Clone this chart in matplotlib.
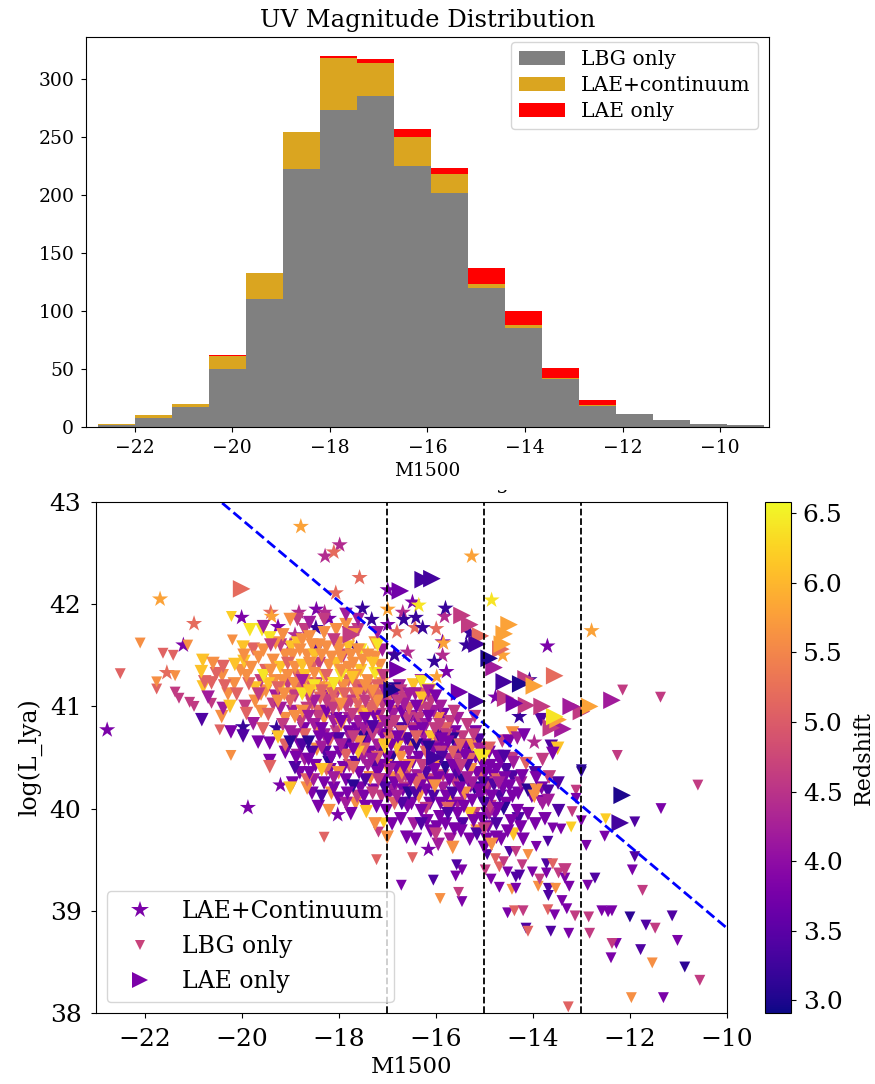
import numpy as np
import matplotlib
matplotlib.use("Agg")
import matplotlib.pyplot as plt
from matplotlib.colors import Normalize
from matplotlib.lines import Line2D
from matplotlib.transforms import Bbox

plt.rcParams['font.family'] = ['DejaVu Serif']

# ---------- histogram values ----------
bin_start = -22.76
bin_end = -9.1
lbg_counts = [2, 8, 17, 50, 110, 222, 273, 285, 225, 202, 120, 85, 41, 18, 11, 6, 3, 2]
cont_counts = [1, 2, 3, 11, 23, 32, 45, 29, 25, 16, 3, 3, 1, 1, 0, 0, 0, 0]
lae_counts = [0, 0, 0, 1, 0, 0, 2, 3, 7, 5, 14, 12, 9, 4, 0, 0, 0, 0]
hist_colors = ['gray', 'goldenrod', 'red']
hist_labels = ['LBG only', 'LAE+continuum', 'LAE only']

# ---------- scatter values: (M1500, log L_lya) grouped by redshift ----------
star_groups = {
    3.2: [(-17.51, 41.96), (-15.8, 41.96), (-16.41, 41.87), (-16.66, 41.85), (-16.27, 41.77), (-16.03, 41.44),
          (-17.63, 41.57), (-19.97, 40.8), (-19.28, 40.79), (-15.3, 41.72), (-15.37, 41.6), (-14.07, 41.26),
          (-16.85, 41.5), (-17.32, 41.85), (-18.47, 41.77), (-14.28, 40.9)],
    3.8: [(-21.2, 41.6), (-20.0, 41.87), (-19.25, 41.78), (-18.46, 41.95), (-18.2, 41.86), (-16.99, 42.14),
          (-16.99, 41.8), (-16.48, 42.02), (-15.86, 41.63), (-15.78, 41.34), (-13.7, 41.59), (-22.77, 40.77),
          (-19.87, 40.01), (-18.02, 39.94), (-16.15, 39.6), (-19.2, 40.23), (-14.77, 41.09), (-16.85, 41.51)],
    4.4: [(-17.98, 42.58), (-18.28, 42.47), (-18.82, 41.92), (-18.29, 41.92), (-16.68, 41.92), (-16.58, 41.53),
          (-15.82, 41.88), (-15.86, 41.5), (-13.97, 40.65), (-18.9, 41.7), (-19.0, 41.6)],
    5.2: [(-18.1, 42.51), (-17.57, 42.26), (-18.06, 42.11), (-20.98, 41.81), (-19.4, 41.92), (-15.99, 41.76),
          (-21.54, 41.33), (-16.43, 41.77), (-16.8, 41.73)],
    5.8: [(-18.78, 42.76), (-21.68, 42.05), (-19.38, 41.88), (-15.26, 42.47), (-12.79, 41.74), (-14.62, 41.5),
          (-15.98, 41.29), (-16.99, 41.95), (-15.84, 41.62)],
    6.4: [(-16.35, 41.99), (-14.85, 42.04), (-17.4, 41.52)],
}

lbg_groups = {
    3.1: [(-10.87, 38.45), (-12.0, 38.94), (-13.0, 40.36), (-13.0, 40.38)],
    3.4: [(-11.9, 39.87), (-11.9, 39.53), (-12.72, 39.32), (-11.78, 38.62), (-11.13, 38.95), (-11.67, 38.86),
          (-13.63, 38.8), (-14.14, 38.83), (-13.68, 39.15), (-13.68, 39.22), (-13.72, 39.46), (-14.27, 39.35),
          (-14.35, 39.33), (-14.48, 39.58), (-14.94, 39.55), (-15.57, 39.45), (-16.05, 39.3), (-13.69, 39.68)],
    3.8: [(-11.36, 40.0), (-12.52, 39.73), (-11.95, 39.4), (-12.9, 39.64), (-12.87, 39.25), (-12.58, 39.0), (-12.45, 38.99),
          (-12.37, 39.0), (-11.02, 38.71), (-12.28, 38.68), (-12.39, 38.54), (-11.31, 38.15), (-13.26, 38.78), (-13.55, 38.96),
          (-14.52, 38.98), (-13.3, 39.02), (-13.4, 39.1), (-13.25, 39.24), (-14.35, 39.22), (-14.69, 39.23), (-14.86, 39.31),
          (-14.52, 39.38), (-14.01, 39.38), (-13.34, 39.32), (-13.72, 39.37), (-13.93, 39.63), (-15.46, 39.4), (-15.59, 39.34),
          (-16.71, 39.25), (-15.46, 39.09), (-13.0, 39.88), (-13.59, 39.81), (-13.42, 39.8), (-13.11, 40.1), (-13.85, 40.08)],
    4.6: [(-10.6, 40.23), (-11.74, 39.2), (-12.85, 38.94), (-12.83, 38.78), (-12.37, 38.68), (-13.13, 38.95), (-11.48, 38.83),
          (-10.56, 38.32), (-14.2, 39.0), (-13.11, 40.18), (-13.19, 39.97), (-13.68, 40.3), (-12.15, 41.16), (-11.37, 41.09),
          (-12.26, 40.52), (-13.47, 39.37), (-13.86, 39.31), (-14.35, 39.58), (-14.22, 39.45), (-14.6, 39.48), (-14.98, 39.4),
          (-15.53, 39.18), (-17.18, 39.77), (-21.37, 41.14), (-21.29, 41.08), (-21.07, 41.04), (-20.98, 41.0), (-20.62, 41.03)],
    5.1: [(-22.5, 41.32), (-21.62, 41.52), (-21.41, 41.5), (-21.75, 41.17), (-20.45, 40.77), (-14.1, 38.8), (-13.27, 38.06),
          (-13.69, 39.01), (-14.38, 39.0), (-13.59, 39.46), (-14.69, 39.43), (-14.77, 39.51), (-17.22, 39.5), (-16.48, 39.52),
          (-18.3, 39.72)],
    5.6: [(-22.09, 41.62), (-21.11, 41.6), (-21.75, 41.24), (-21.37, 41.3), (-20.19, 41.65), (-20.22, 40.52), (-11.97, 38.15),
          (-11.54, 38.49), (-15.91, 39.12), (-13.53, 39.22), (-13.89, 39.24), (-14.43, 39.21), (-14.1, 39.55)],
    6.2: [(-20.21, 41.88), (-12.5, 39.9), (-13.21, 39.82), (-17.07, 39.86)],
}

dense_groups = {
    3.1: [(-19.0, 40.65), (-18.2, 40.45), (-17.5, 40.7), (-16.9, 40.5), (-16.4, 40.62), (-15.8, 40.4), (-15.2, 40.2),
          (-17.7, 40.22), (-16.55, 40.15), (-14.6, 40.0), (-16.85, 41.17), (-15.3, 40.62), (-14.1, 40.18), (-15.65, 40.68),
          (-18.62, 40.65), (-17.02, 40.82), (-16.15, 40.6), (-15.45, 40.28)],
    3.4: [(-13.47, 39.98), (-13.69, 40.17), (-13.48, 40.25), (-14.8, 40.23), (-14.42, 40.31), (-13.83, 40.87), (-13.62, 40.61),
          (-15.11, 40.67), (-14.59, 40.51), (-19.97, 40.71), (-20.82, 40.87), (-18.55, 40.55), (-18.0, 40.68), (-17.65, 40.45),
          (-17.3, 40.8), (-17.05, 40.2), (-16.7, 40.05), (-16.2, 40.35), (-15.95, 40.72), (-15.65, 40.15), (-15.45, 39.85),
          (-15.0, 40.05), (-14.3, 39.9), (-18.45, 41.55), (-16.6, 40.85), (-15.55, 40.55), (-14.75, 39.85), (-16.3, 39.85),
          (-18.9, 40.4), (-18.35, 40.12), (-17.15, 40.55), (-16.05, 40.12), (-15.35, 40.42), (-14.55, 40.38), (-14.95, 39.95),
          (-13.95, 40.35), (-17.45, 40.28), (-16.75, 40.78), (-15.75, 39.95), (-15.15, 39.75),
          (-18.75, 40.62), (-18.28, 40.55), (-17.85, 40.62), (-17.25, 40.42), (-16.58, 40.68), (-16.42, 40.15), (-15.88, 40.5),
          (-15.58, 40.35), (-15.02, 40.25), (-14.68, 40.12)],
    3.8: [(-15.18, 40.75), (-13.59, 40.54), (-14.18, 40.72), (-14.73, 40.51), (-14.66, 40.46), (-14.49, 40.66), (-13.93, 40.3),
          (-19.66, 40.65), (-19.42, 40.64), (-19.42, 40.47), (-20.22, 40.75), (-18.8, 40.62), (-18.6, 40.35), (-18.4, 40.7),
          (-18.3, 40.25), (-18.15, 40.5), (-18.0, 40.1), (-17.9, 40.4), (-17.8, 40.75), (-17.7, 40.58), (-17.55, 40.2),
          (-17.45, 40.02), (-17.35, 40.55), (-17.2, 40.35), (-17.1, 40.72), (-17.0, 40.5), (-16.9, 39.85), (-16.85, 40.25),
          (-16.75, 40.65), (-16.65, 40.4), (-16.6, 39.72), (-16.5, 40.05), (-16.45, 40.75), (-16.35, 40.5), (-16.3, 39.98),
          (-16.2, 40.18), (-16.1, 39.78), (-16.05, 40.58), (-15.95, 40.3), (-15.9, 40.05), (-15.8, 39.85), (-15.75, 40.65),
          (-15.65, 40.42), (-15.55, 39.95), (-15.5, 40.2), (-15.4, 40.52), (-15.3, 39.7), (-15.25, 40.08), (-15.15, 40.35),
          (-15.05, 39.9), (-14.95, 39.7), (-14.85, 40.12), (-14.75, 40.38), (-14.65, 39.7), (-14.55, 40.05), (-14.45, 39.88),
          (-14.3, 40.15), (-14.2, 39.7), (-14.1, 39.95), (-13.95, 39.85), (-16.95, 41.0), (-16.7, 40.95), (-16.4, 41.0),
          (-16.15, 40.9), (-15.85, 40.92), (-18.25, 40.95), (-18.05, 40.88), (-17.75, 39.95), (-18.55, 40.15), (-18.8, 40.35),
          (-17.25, 40.9), (-15.6, 40.75), (-14.9, 40.55), (-16.0, 41.1), (-19.1, 40.55), (-18.95, 40.25), (-18.72, 40.78),
          (-18.48, 40.42), (-18.42, 40.02), (-18.22, 40.68), (-18.1, 40.2), (-17.98, 40.55), (-17.85, 40.28), (-17.62, 40.78),
          (-17.58, 40.35), (-17.42, 40.65), (-17.28, 40.18), (-17.12, 40.42), (-17.02, 39.98), (-16.92, 40.62), (-16.82, 40.4),
          (-16.72, 39.9), (-16.62, 40.68), (-16.52, 40.28), (-16.42, 39.7), (-16.32, 40.22), (-16.22, 40.62), (-16.12, 40.05),
          (-16.02, 40.38), (-15.92, 39.92), (-15.82, 40.58), (-15.72, 40.28), (-15.62, 39.8), (-15.52, 40.38), (-15.42, 40.02),
          (-15.32, 40.55), (-15.22, 39.88), (-15.12, 40.18), (-15.02, 40.42), (-14.92, 39.82), (-14.82, 40.32), (-14.72, 40.0),
          (-14.62, 40.2), (-14.52, 39.78), (-14.42, 40.12), (-14.32, 39.98), (-14.22, 40.32), (-14.02, 40.12), (-13.82, 40.2),
          (-15.0, 39.62), (-14.75, 39.72), (-14.25, 39.82), (-13.75, 39.9), (-17.95, 40.85), (-17.45, 40.88), (-16.85, 41.1),
          (-18.88, 40.5), (-18.62, 40.48), (-18.35, 40.78), (-18.18, 40.38), (-18.02, 40.68), (-17.82, 40.15), (-17.68, 40.72),
          (-17.48, 40.12), (-17.38, 40.75), (-17.22, 40.02), (-17.08, 40.28), (-16.98, 40.12), (-16.78, 40.7), (-16.68, 40.18),
          (-16.58, 40.02), (-16.48, 40.45), (-16.38, 40.85), (-16.28, 40.78), (-16.18, 39.88), (-16.08, 40.25), (-15.98, 39.82),
          (-15.88, 40.68), (-15.78, 40.12), (-15.68, 40.02), (-15.58, 40.62), (-15.48, 39.78), (-15.38, 40.62), (-15.28, 40.22),
          (-15.18, 40.5), (-15.08, 40.12), (-14.98, 40.35), (-14.88, 40.42), (-14.78, 39.95), (-14.58, 40.3), (-14.48, 40.22)],
    4.2: [(-13.68, 40.08), (-14.32, 40.69), (-20.69, 41.09), (-20.38, 40.98), (-19.76, 40.83), (-19.0, 40.75), (-18.7, 40.48),
          (-18.5, 40.82), (-18.35, 40.6), (-18.1, 40.3), (-17.95, 40.62), (-17.6, 40.85), (-17.4, 40.42), (-17.2, 40.62),
          (-16.95, 40.38), (-16.8, 40.12), (-16.55, 40.55), (-16.25, 40.7), (-16.1, 40.42), (-15.85, 40.2), (-15.7, 39.7),
          (-15.35, 40.3), (-15.1, 40.58), (-14.9, 39.95), (-14.7, 40.25), (-14.4, 40.45), (-14.25, 40.25), (-13.8, 40.05),
          (-19.3, 41.1), (-18.75, 41.25), (-18.95, 40.95), (-18.2, 41.1), (-17.05, 41.15), (-16.75, 41.2), (-16.3, 41.25),
          (-17.85, 40.05), (-16.45, 39.85), (-15.95, 39.65), (-19.2, 40.98), (-18.85, 40.52), (-18.5, 41.05), (-18.1, 40.85),
          (-17.75, 40.68), (-17.5, 40.5), (-17.05, 40.85), (-16.75, 40.55), (-16.5, 40.9), (-16.2, 40.82), (-15.95, 40.6),
          (-15.55, 40.05), (-15.25, 40.25), (-14.95, 40.18), (-16.55, 41.12), (-16.25, 41.08), (-17.6, 41.85), (-17.85, 41.9),
          (-17.2, 41.72), (-18.6, 41.82), (-19.55, 41.78), (-17.1, 41.55), (-16.65, 41.02), (-16.05, 40.95),
          (-18.9, 40.72), (-18.62, 40.9), (-18.3, 40.72), (-17.78, 40.88), (-17.48, 40.78), (-17.18, 40.78), (-16.88, 40.92),
          (-16.42, 41.12), (-16.15, 41.15), (-15.9, 41.0), (-15.55, 40.88), (-15.72, 40.48), (-16.38, 40.32), (-16.88, 40.18),
          (-17.32, 40.48), (-18.52, 40.28), (-15.42, 40.12)],
    4.6: [(-13.8, 40.48), (-14.42, 40.49), (-14.63, 40.66), (-13.66, 40.31), (-14.94, 40.25), (-13.34, 39.4), (-19.93, 41.0),
          (-19.6, 41.25), (-19.35, 41.02), (-19.15, 40.82), (-18.9, 41.1), (-18.65, 40.98), (-18.45, 41.22), (-18.25, 41.05),
          (-18.05, 40.75), (-17.85, 41.0), (-17.7, 40.7), (-17.45, 41.05), (-17.3, 40.72), (-17.1, 41.02), (-16.85, 40.85),
          (-16.6, 41.08), (-16.35, 40.88), (-16.1, 41.05), (-15.9, 40.55), (-15.7, 40.85), (-15.45, 40.7), (-15.2, 40.9),
          (-16.6, 40.2), (-16.2, 40.0), (-15.6, 40.25), (-15.0, 39.8), (-17.3, 40.15), (-16.0, 39.75), (-15.2, 39.95),
          (-18.4, 41.42), (-17.9, 41.5), (-19.4, 41.6), (-18.1, 41.65), (-18.7, 41.75), (-17.6, 41.75), (-19.65, 41.12),
          (-19.05, 41.22), (-18.62, 41.1), (-18.12, 40.98), (-17.72, 40.92), (-17.28, 41.1), (-16.95, 40.8), (-16.72, 41.15),
          (-16.48, 40.78), (-16.18, 40.98), (-15.92, 40.82), (-15.62, 40.95), (-15.35, 40.82), (-15.55, 40.48), (-15.85, 40.32),
          (-16.28, 40.42), (-16.72, 40.28), (-17.18, 40.28), (-17.62, 40.12), (-17.08, 41.3), (-18.3, 41.85), (-17.8, 41.72),
          (-18.85, 41.85), (-19.2, 41.6),
          (-18.05, 41.12), (-17.75, 41.05), (-17.48, 41.15), (-17.15, 40.92), (-16.78, 41.05), (-16.58, 40.88), (-16.32, 40.98),
          (-16.02, 40.78), (-15.78, 40.72), (-15.48, 40.42), (-15.22, 40.72), (-16.12, 40.28), (-16.62, 40.32), (-17.12, 40.12),
          (-18.78, 40.85), (-18.42, 40.9), (-17.78, 40.42), (-14.88, 40.02)],
    5.1: [(-14.9, 40.59), (-14.14, 40.44), (-14.73, 40.28), (-20.38, 41.39), (-20.52, 41.32), (-19.76, 41.56), (-19.5, 41.35),
          (-19.25, 41.18), (-19.05, 41.42), (-18.85, 41.3), (-18.55, 41.02), (-18.35, 41.15), (-18.0, 41.0), (-17.8, 41.25),
          (-17.6, 41.02), (-17.35, 40.98), (-17.2, 41.2), (-19.1, 40.62), (-18.7, 40.72), (-18.2, 40.65), (-17.7, 40.4),
          (-17.2, 40.5), (-16.7, 40.75), (-16.2, 40.55), (-15.8, 40.78), (-15.3, 40.48), (-16.85, 40.05), (-16.4, 40.25),
          (-15.75, 40.0), (-17.0, 40.72), (-17.55, 40.62), (-18.25, 41.3), (-17.65, 41.2), (-18.55, 41.38), (-17.0, 41.05),
          (-20.35, 41.2), (-20.62, 41.23), (-20.76, 41.24), (-19.9, 40.93), (-19.56, 40.78), (-19.42, 40.41), (-20.1, 41.12),
          (-19.85, 41.22), (-19.45, 40.92), (-19.0, 41.05), (-18.72, 41.15), (-18.42, 40.95), (-18.12, 41.12), (-17.88, 41.12),
          (-17.55, 41.18), (-17.32, 41.12), (-17.15, 41.1), (-16.9, 40.95), (-16.55, 40.98), (-16.3, 41.12), (-16.25, 40.28),
          (-15.65, 40.55), (-15.05, 40.32), (-17.85, 40.52), (-18.25, 40.38), (-18.65, 40.28),
          (-18.15, 41.05), (-17.92, 41.2), (-17.68, 41.12), (-17.42, 41.18), (-17.25, 41.0), (-18.38, 41.08), (-18.58, 41.22),
          (-18.82, 41.18), (-16.95, 40.68), (-16.4, 40.7), (-15.98, 40.68), (-15.5, 40.62), (-17.48, 40.58)],
    5.6: [(-14.42, 40.74), (-13.97, 40.12), (-13.93, 40.18), (-15.08, 40.59), (-20.59, 41.42), (-20.41, 40.9), (-19.9, 41.3),
          (-19.6, 41.12), (-19.35, 41.45), (-19.15, 41.25), (-18.95, 41.5), (-18.6, 41.42), (-18.4, 41.6), (-18.15, 41.48),
          (-17.95, 41.35), (-17.7, 41.42), (-17.4, 41.25), (-18.9, 40.9), (-18.45, 40.78), (-17.95, 40.82), (-17.5, 40.75),
          (-17.1, 40.85), (-18.65, 40.2), (-18.2, 39.98), (-17.65, 40.05), (-17.25, 39.85), (-16.9, 40.3), (-16.35, 40.12),
          (-15.95, 40.45), (-15.4, 40.15), (-15.65, 39.62), (-17.0, 39.72), (-19.0, 41.85), (-18.05, 41.75), (-18.6, 41.68),
          (-17.85, 41.8), (-16.7, 40.35), (-17.35, 40.3), (-14.85, 39.65), (-15.15, 39.78), (-20.4, 41.3), (-20.15, 41.22),
          (-19.95, 41.5), (-19.8, 41.38), (-19.65, 41.48), (-19.5, 41.15), (-19.4, 41.35), (-19.3, 41.62), (-19.25, 41.05),
          (-19.1, 41.5), (-19.05, 41.3), (-18.95, 41.12), (-18.9, 41.38), (-18.8, 41.55), (-18.7, 41.25), (-18.65, 41.5),
          (-18.55, 41.6), (-18.5, 41.32), (-18.4, 41.18), (-18.35, 41.5), (-18.25, 41.58), (-18.2, 41.4), (-18.1, 41.22),
          (-18.0, 41.55), (-17.95, 41.48), (-17.9, 41.2), (-17.8, 41.38), (-17.75, 41.5), (-17.65, 41.3), (-17.6, 41.12),
          (-17.5, 41.45), (-17.45, 41.2), (-17.4, 41.5), (-17.3, 41.15), (-17.25, 41.48), (-17.15, 41.4), (-17.1, 41.22),
          (-18.3, 41.72), (-18.75, 41.65), (-19.15, 41.7), (-17.7, 41.7), (-18.0, 41.62), (-19.6, 40.95), (-19.1, 40.88),
          (-18.75, 40.95), (-18.3, 40.88), (-17.95, 41.02), (-17.55, 40.95), (-17.2, 41.05), (-15.95, 40.88), (-15.25, 40.62),
          (-16.55, 40.42), (-17.35, 40.3), (-18.0, 40.35), (-18.45, 40.58), (-17.6, 41.55), (-17.25, 41.62),
          (-20.28, 41.12), (-20.02, 41.35), (-19.72, 41.05), (-19.55, 41.55), (-19.32, 41.25), (-19.12, 41.12), (-18.92, 41.22),
          (-17.58, 40.65), (-16.72, 40.5), (-16.02, 40.22), (-15.28, 40.38), (-18.15, 40.15), (-17.02, 40.42), (-16.5, 40.62)],
    6.1: [(-19.97, 41.58), (-20.14, 41.41), (-19.95, 41.44), (-20.8, 41.45), (-20.83, 41.34), (-20.79, 41.19), (-20.24, 41.0),
          (-13.49, 40.59), (-16.29, 41.08), (-16.46, 41.21), (-17.43, 39.97), (-19.72, 41.18), (-19.45, 41.22), (-19.2, 41.38),
          (-18.98, 41.58), (-18.75, 41.4), (-18.5, 41.5), (-18.3, 41.3), (-18.05, 41.42), (-17.8, 41.58), (-17.55, 41.35),
          (-17.3, 41.42), (-17.1, 41.3), (-18.85, 41.62), (-18.6, 41.15), (-17.9, 41.12), (-17.4, 40.92), (-16.8, 40.6),
          (-16.1, 40.7), (-15.7, 40.12), (-15.3, 39.95), (-14.4, 39.75), (-18.35, 40.38), (-19.0, 40.2), (-17.05, 40.62),
          (-17.0, 40.4), (-18.7, 41.3), (-18.2, 41.18), (-17.72, 41.28), (-19.25, 40.7), (-17.6, 40.55)],
    6.4: [(-19.83, 41.75), (-19.58, 41.75), (-19.42, 41.67), (-15.0, 40.51), (-16.29, 41.24), (-16.12, 41.16), (-19.2, 41.18),
          (-18.75, 41.12), (-18.1, 41.22), (-17.55, 41.55), (-17.2, 41.6), (-18.5, 41.2), (-17.95, 41.3), (-17.25, 41.32),
          (-19.55, 41.3), (-17.05, 40.6), (-15.1, 40.52)],
}

lae_groups = {
    3.0: [(-16.9, 41.16), (-14.25, 41.22), (-12.16, 40.13), (-14.9, 41.47)],
    3.3: [(-16.26, 42.24), (-16.08, 42.25), (-15.15, 41.61), (-14.59, 41.24), (-15.15, 41.05), (-12.2, 39.86), (-16.02, 40.5)],
    3.7: [(-16.73, 42.13), (-15.51, 41.14), (-14.38, 41.03), (-16.78, 41.36)],
    4.2: [(-14.8, 41.38), (-13.21, 41.0), (-12.37, 41.06), (-13.38, 40.78)],
    4.6: [(-15.46, 41.89), (-15.3, 41.8), (-14.56, 41.08), (-14.14, 41.27), (-14.13, 41.01), (-13.81, 41.0), (-13.0, 40.95),
          (-13.62, 40.79), (-17.74, 41.7)],
    5.2: [(-15.08, 41.69), (-14.66, 41.56), (-13.55, 41.3), (-20.0, 42.15)],
    5.8: [(-14.49, 41.8), (-14.59, 41.71), (-14.63, 41.61), (-13.97, 41.2), (-12.83, 41.0), (-13.48, 40.87)],
    6.4: [(-13.55, 40.9)],
}

slope_line_x = [-20.4, -10.0]
slope_line_y = [42.99, 38.83]
mag_cuts = [-17, -15, -13]
z_min, z_max = 2.91, 6.58
z_ticks = [3.0, 3.5, 4.0, 4.5, 5.0, 5.5, 6.0, 6.5]


def flatten(groups):
    m, l, z = [], [], []
    for k, pts in groups.items():
        for a, b in pts:
            m.append(a); l.append(b); z.append(k)
    m, l, z = np.array(m), np.array(l), np.array(z)
    order = np.argsort(np.round(m * 100) % 13 + np.round(l * 100) % 7 * 0.01, kind='stable')
    return m[order], l[order], z[order]


W, H = 875, 1084
fig = plt.figure(figsize=(W / 100, H / 100), dpi=100)


def rect(x0, y0, x1, y1):
    return [x0 / W, 1 - y1 / H, (x1 - x0) / W, (y1 - y0) / H]


# ---------- top panel ----------
ax1 = fig.add_axes(rect(86, 37, 769, 427))
n = len(lbg_counts)
edges = np.linspace(bin_start, bin_end, n + 1)
widths = np.diff(edges)
lbg = np.array(lbg_counts, float)
cont = np.array(cont_counts, float)
lae = np.array(lae_counts, float)
ax1.bar(edges[:-1], lbg, widths, align='edge', color=hist_colors[0], label=hist_labels[0])
ax1.bar(edges[:-1], cont, widths, bottom=lbg, align='edge', color=hist_colors[1], label=hist_labels[1])
ax1.bar(edges[:-1], lae, widths, bottom=lbg + cont, align='edge', color=hist_colors[2], label=hist_labels[2])
ax1.set_xlim(-23.0, -9.0)
ax1.set_ylim(0, 336)
ax1.set_xticks([-22, -20, -18, -16, -14, -12, -10])
ax1.set_yticks([0, 50, 100, 150, 200, 250, 300])
ax1.tick_params(labelsize=13.5, pad=5)
ax1.set_xlabel('M1500', fontsize=13.3, labelpad=3.5)
ax1.set_title('UV Magnitude Distribution', fontsize=17.5, pad=7)
ax1.legend(loc='upper right', bbox_to_anchor=(0.984, 0.987), fontsize=14.6, borderaxespad=0,
           labelspacing=0.35, handlelength=2.3, handletextpad=0.75)

# ---------- bottom panel ----------
ax2 = fig.add_axes(rect(96, 502, 727, 1013))
norm = Normalize(z_min, z_max)
cmap = 'plasma'
m, l, z = flatten(star_groups)
sc = ax2.scatter(m, l, c=z, cmap=cmap, norm=norm, marker='*', s=150, linewidths=0)
m, l, z = flatten(lbg_groups)
ax2.scatter(m, l, c=z, cmap=cmap, norm=norm, marker='v', s=62, linewidths=0)
m, l, z = flatten(dense_groups)
ax2.scatter(m, l, c=z, cmap=cmap, norm=norm, marker='v', s=95, linewidths=0)
m, l, z = flatten(lae_groups)
ax2.scatter(m, l, c=z, cmap=cmap, norm=norm, marker='>', s=160, linewidths=0)
ax2.plot(slope_line_x, slope_line_y, color='blue', ls='--', lw=2)
for c in mag_cuts:
    ax2.axvline(c, color='black', ls='--', lw=1.3)
ax2.set_xlim(-23, -10)
ax2.set_ylim(38, 43)
ax2.set_xticks([-22, -20, -18, -16, -14, -12, -10])
ax2.set_yticks([38, 39, 40, 41, 42, 43])
ax2.tick_params(labelsize=18, pad=7)
ax2.set_xlabel('M1500', fontsize=16.5, labelpad=4)
ax2.set_ylabel('log(L_lya)', fontsize=17, labelpad=5)

cm = plt.get_cmap(cmap)
handles = [
    Line2D([], [], ls='', marker='*', ms=13, mew=0, color=cm(norm(3.8)), label='LAE+Continuum'),
    Line2D([], [], ls='', marker='v', ms=7, mew=0, color=cm(norm(4.7)), label='LBG only'),
    Line2D([], [], ls='', marker='>', ms=11, mew=0, color=cm(norm(3.8)), label='LAE only'),
]
ax2.legend(handles=handles, loc='lower left', fontsize=17, borderaxespad=0.45)

# clipped remnant of the lower panel's title, showing below the upper panel
clip = Bbox([[490, H - 495], [515, H - 490]])
fig.text(503 / W, 1 - 489 / H, 'g', fontsize=15, ha='center', va='baseline',
         clip_box=clip, clip_on=True)

cax = fig.add_axes(rect(765, 502, 791, 1013))
cb = fig.colorbar(sc, cax=cax)
cb.set_ticks(z_ticks)
cb.ax.tick_params(labelsize=18, pad=5)
cb.set_label('Redshift', fontsize=16, labelpad=7)

fig.savefig('out.png', dpi=100)
